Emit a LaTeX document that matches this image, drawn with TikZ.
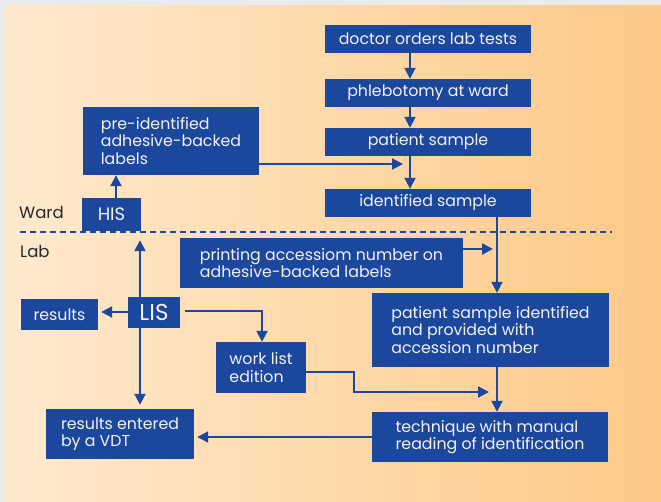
\documentclass[tikz,border=0pt]{standalone}
\usepackage{fontspec}
\setmainfont{Poppins}
\usetikzlibrary{arrows.meta}
\definecolor{boxblue}{RGB}{27,71,156}
\definecolor{bgleft}{RGB}{255,233,206}
\definecolor{bgright}{RGB}{253,201,135}
\definecolor{stripgray}{RGB}{232,236,238}
\definecolor{txtwhite}{RGB}{244,242,240}
\definecolor{labeldark}{RGB}{40,40,40}
\tikzset{
  box/.style={fill=boxblue, text=txtwhite, inner sep=0pt, align=left,
    font=\fontsize{15.8}{17.5}\selectfont},
  conn/.style={draw=boxblue, line width=2pt},
  arr/.style={conn, -{Triangle[width=11pt,length=11pt]}},
  sideLabel/.style={text=labeldark, font=\fontsize{16.5}{18}\selectfont, anchor=base west, inner sep=0pt},
  sepline/.style={draw=boxblue, line width=2pt, dash pattern=on 6pt off 4pt}
}
\begin{document}
\begin{tikzpicture}[x=1pt,y=-1pt]
\useasboundingbox (0,0) rectangle (661,502);
\fill[stripgray] (0,0) rectangle (661,502);
\shade[left color=bgleft, right color=bgright] (4,6) rectangle (661,502);

% separator
\coordinate (sepL) at (20,232);
\coordinate (sepR) at (612,232);
\draw[sepline] (sepL) -- (sepR);
\node[sideLabel] (ward) at (19,219) {Ward};
\node[sideLabel] (lab) at (20,258) {Lab};

% nodes
\node[box, minimum width=206pt, minimum height=28pt] (doctor) at (428,39) {doctor orders lab tests};
\node[box, minimum width=206pt, minimum height=28pt] (phleb) at (428,93) {phlebotomy at ward};
\node[box, minimum width=206pt, minimum height=28pt] (psample) at (428,142) {patient sample};
\node[box, minimum width=206pt, minimum height=28pt] (ident) at (428,203) {identified sample};
\node[box, minimum width=176pt, minimum height=68pt] (pre) at (171,141) {pre-identified\\adhesive-backed\\labels};
\node[box, minimum width=59pt, minimum height=33pt, font=\fontsize{18}{20}\selectfont] (his) at (111.5,214.5) {HIS};
\node[box, minimum width=283pt, minimum height=50pt] (print) at (321.5,263) {printing accessiom number on\\adhesive-backed labels};
\node[box, minimum width=237pt, minimum height=74pt] (psi) at (490.5,330) {patient sample identified\\and provided with\\accession number};
\node[box, minimum width=52pt, minimum height=31pt, font=\fontsize{23}{25}\selectfont] (lis) at (154,312.5) {LIS};
\node[box, minimum width=77pt, minimum height=31pt] (results) at (59.5,314.5) {results};
\node[box, minimum width=90pt, minimum height=51pt] (work) at (261,367.5) {work list\\edition};
\node[box, minimum width=148pt, minimum height=50pt] (entered) at (120,434) {results entered\\by a VDT};
\node[box, minimum width=236pt, minimum height=50pt] (tech) at (490,437) {technique with manual\\reading of identification};

% helper coordinates
\coordinate (cx) at (410,0);
\coordinate (rx) at (497,0);
\coordinate (hx) at (116,0);
\coordinate (lx) at (140,0);
\coordinate (bend1) at (354,372);
\coordinate (bend2) at (354,392);
\coordinate (lisOut) at (185,311);
\coordinate (lisBend) at (262,311);

% connectors
\draw[arr] (doctor.south -| cx) -- (phleb.north -| cx);
\draw[arr] (phleb.south -| cx) -- (psample.north -| cx);
\draw[arr] (psample.south -| cx) -- (ident.north -| cx);
\draw[arr, shorten >=7pt] ([yshift=-23pt]pre.east) -- ([yshift=-23pt]pre.east -| cx);
\draw[arr] (his.north -| hx) -- (pre.south -| hx);
\draw[arr] (ident.south -| rx) -- (psi.north -| rx);
\draw[arr, shorten >=4pt] ([yshift=14pt]print.east) -- ([yshift=14pt]print.east -| rx);
\draw[arr] (psi.south -| rx) -- (tech.north -| rx);
\draw[arr, shorten >=9pt] (lis.north -| lx) -- (his.south -| lx);
\draw[arr, shorten >=3pt] ([yshift=0.5pt]lis.west) -- ([yshift=0.5pt]lis.west -| results.east);
\draw[arr, shorten >=4pt] (lis.south -| lx) -- (entered.north -| lx);
\draw[arr] (lisOut) -- (lisBend) -- (work.north -| lisBend);
\draw[arr, shorten >=8pt] (work.east |- bend1) -- (bend1) -- (bend2) -- (bend2 -| rx);
\draw[arr, shorten >=3pt] (tech.west) -- (tech.west -| entered.east);
\end{tikzpicture}
\end{document}
